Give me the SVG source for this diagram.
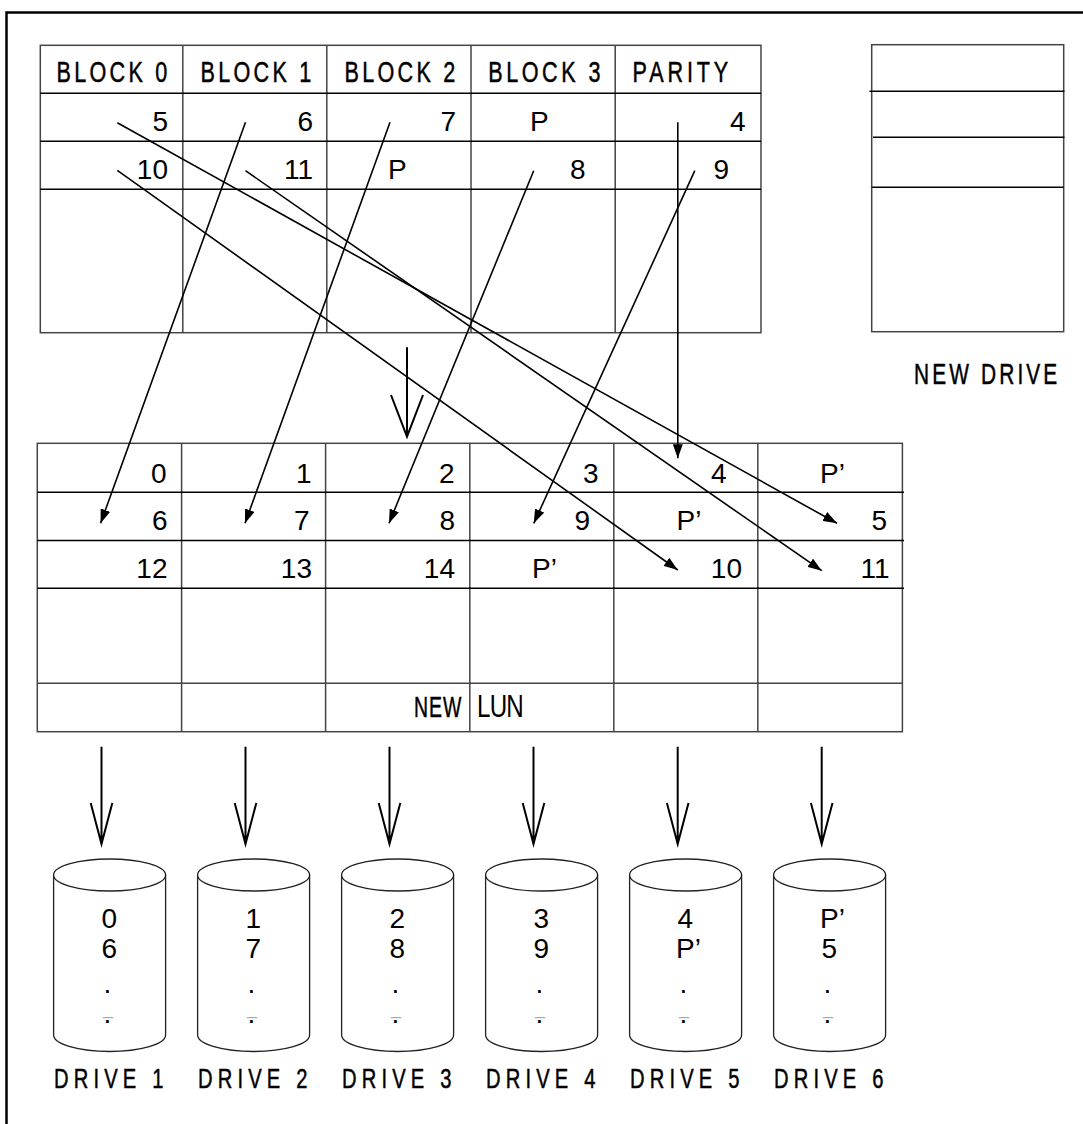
<svg xmlns="http://www.w3.org/2000/svg" width="1083" height="1124" viewBox="0 0 1083 1124">
<defs>
<style>
.frame{fill:none;stroke:#000;stroke-width:2.5}
.grid{fill:none;stroke:#444;stroke-width:1.5}
.row{stroke:#000;stroke-width:1.5}
.num{font-family:"Liberation Sans",Arial,sans-serif;font-size:28px;fill:#000}
.cad{font-family:"Liberation Sans",Arial,sans-serif;fill:#000;stroke:#000;stroke-width:0.5}
.h30{font-size:30px}
.h29{font-size:29px}
.h28{font-size:28px}
.conn{fill:none;stroke:#000;stroke-width:1.6}
.big{fill:none;stroke:#000;stroke-width:2}
.cyl{fill:#fff;stroke:#222;stroke-width:1.3}
.tick{stroke:#999;stroke-width:1}
</style>
<marker id="ah" viewBox="0 0 14 10" refX="14" refY="5" markerWidth="14" markerHeight="10" markerUnits="userSpaceOnUse" orient="auto">
<path d="M0,0 L14,5 L0,10 z" fill="#000"/>
</marker>
</defs>
<rect width="1083" height="1124" fill="#fff"/>
<rect class="frame" x="6.5" y="12.5" width="1100" height="1200"/>

<g id="old-lun">
<rect class="grid" x="40.3" y="45.3" width="720.7" height="287.4"/>
<path class="grid" d="M182.8,45.3V332.7M326.8,45.3V332.7M471,45.3V332.7M615.2,45.3V332.7"/>
<path class="row" d="M40.3,93.3H761M40.3,141.3H761M40.3,189.3H761"/>
<text class="cad h30" transform="translate(56.5,82.3) scale(0.72,1)" textLength="154" lengthAdjust="spacing">BLOCK 0</text>
<text class="cad h30" transform="translate(200.5,82.3) scale(0.72,1)" textLength="154" lengthAdjust="spacing">BLOCK 1</text>
<text class="cad h30" transform="translate(344.5,82.3) scale(0.72,1)" textLength="154" lengthAdjust="spacing">BLOCK 2</text>
<text class="cad h30" transform="translate(488.3,82.3) scale(0.72,1)" textLength="156" lengthAdjust="spacing">BLOCK 3</text>
<text class="cad h30" transform="translate(632.5,82.3) scale(0.72,1)" textLength="133" lengthAdjust="spacing">PARITY</text>
<text class="num" x="168" y="131.3" text-anchor="end">5</text>
<text class="num" x="313" y="131.3" text-anchor="end">6</text>
<text class="num" x="456" y="131.3" text-anchor="end">7</text>
<text class="num" x="530" y="131.3">P</text>
<text class="num" x="745.5" y="131.3" text-anchor="end">4</text>
<text class="num" x="168" y="179.3" text-anchor="end">10</text>
<text class="num" x="313" y="179.3" text-anchor="end">11</text>
<text class="num" x="388" y="179.3">P</text>
<text class="num" x="585.5" y="179.3" text-anchor="end">8</text>
<text class="num" x="729" y="179.3" text-anchor="end">9</text>
</g>

<g id="new-drive">
<rect class="grid" x="871.7" y="44.7" width="192" height="287"/>
<path class="row" d="M869.5,91.3H1064.5M873,137.3H1064.5M871.7,187.3H1063.7"/>
<text class="cad h29" transform="translate(914,384) scale(0.72,1)" textLength="199" lengthAdjust="spacing">NEW DRIVE</text>
</g>

<g id="new-lun">
<rect class="grid" x="37.3" y="443.3" width="865.1" height="288.4"/>
<path class="grid" d="M181.6,443.3V731.7M325.6,443.3V731.7M469.8,443.3V731.7M613.8,443.3V731.7M757.8,443.3V731.7M37.3,683.3H902.4"/>
<path class="row" d="M37.3,492.3H904M37.3,540.5H904M37.3,588.3H904"/>
<text class="num" x="166.5" y="482.7" text-anchor="end">0</text>
<text class="num" x="311.5" y="482.7" text-anchor="end">1</text>
<text class="num" x="454.5" y="482.7" text-anchor="end">2</text>
<text class="num" x="598.5" y="482.7" text-anchor="end">3</text>
<text class="num" x="726.5" y="482.7" text-anchor="end">4</text>
<text class="num" x="820" y="482.7">P’</text>
<text class="num" x="167.5" y="530" text-anchor="end">6</text>
<text class="num" x="309.5" y="530" text-anchor="end">7</text>
<text class="num" x="455" y="530" text-anchor="end">8</text>
<text class="num" x="590" y="530" text-anchor="end">9</text>
<text class="num" x="676.5" y="530">P’</text>
<text class="num" x="887" y="530" text-anchor="end">5</text>
<text class="num" x="167.5" y="578.3" text-anchor="end">12</text>
<text class="num" x="312" y="578.3" text-anchor="end">13</text>
<text class="num" x="455" y="578.3" text-anchor="end">14</text>
<text class="num" x="532" y="578.3">P’</text>
<text class="num" x="742" y="578.3" text-anchor="end">10</text>
<text class="num" x="889.5" y="578.3" text-anchor="end">11</text>
<text class="cad h30" transform="translate(414,716.7) scale(0.65,1)" textLength="73" lengthAdjust="spacing">NEW</text>
<text class="num" transform="translate(477,716.7) scale(0.78,1)" style="font-size:31px" textLength="60" lengthAdjust="spacing">LUN</text>
</g>

<g id="connectors">
<line class="conn" x1="245.5" y1="122.3" x2="100.6" y2="523.3" marker-end="url(#ah)"/>
<line class="conn" x1="390" y1="122.3" x2="245" y2="523.3" marker-end="url(#ah)"/>
<line class="conn" x1="533.7" y1="170.7" x2="389" y2="523.3" marker-end="url(#ah)"/>
<line class="conn" x1="694.8" y1="170.7" x2="533.8" y2="523.3" marker-end="url(#ah)"/>
<line class="conn" x1="677.8" y1="122.3" x2="677.8" y2="458.3" marker-end="url(#ah)"/>
<line class="conn" x1="117.3" y1="122.7" x2="837" y2="523.3" marker-end="url(#ah)"/>
<line class="conn" x1="117.3" y1="170.3" x2="677.8" y2="570" marker-end="url(#ah)"/>
<line class="conn" x1="245.5" y1="170.7" x2="821.7" y2="570.7" marker-end="url(#ah)"/>
<path class="big" d="M407,347.3V436.7M391,395L407,436.7L423,395"/>
<path class="big" d="M101.5,746.7V844M90.7,803L101.5,844L112.3,803"/>
<path class="big" d="M245.5,746.7V844M234.7,803L245.5,844L256.3,803"/>
<path class="big" d="M389.5,746.7V844M378.7,803L389.5,844L400.3,803"/>
<path class="big" d="M533.5,746.7V844M522.7,803L533.5,844L544.3,803"/>
<path class="big" d="M677.7,746.7V844M666.9,803L677.7,844L688.5,803"/>
<path class="big" d="M821.7,746.7V844M810.9,803L821.7,844L832.5,803"/>
</g>

<g id="drive-1">
<path class="cyl" d="M53.6,875V1035A56,16.5 0 0 0 165.6,1035V875"/>
<ellipse class="cyl" cx="109.6" cy="875" rx="56" ry="16"/>
<text class="num" x="101.5" y="928.3">0</text>
<text class="num" x="101.5" y="958.3">6</text>
<text class="num" x="103.5" y="993.2">.</text>
<line class="tick" x1="102.7" y1="1017.7" x2="113.3" y2="1017.7"/>
<text class="num" x="103.5" y="1023.2">.</text>
<text class="cad h28" transform="translate(54,1088.3) scale(0.72,1)" textLength="152" lengthAdjust="spacing">DRIVE 1</text>
</g>
<g id="drive-2">
<path class="cyl" d="M197.6,875V1035A56,16.5 0 0 0 309.6,1035V875"/>
<ellipse class="cyl" cx="253.6" cy="875" rx="56" ry="16"/>
<text class="num" x="245.5" y="928.3">1</text>
<text class="num" x="245.5" y="958.3">7</text>
<text class="num" x="247.5" y="993.2">.</text>
<line class="tick" x1="246.7" y1="1017.7" x2="257.3" y2="1017.7"/>
<text class="num" x="247.5" y="1023.2">.</text>
<text class="cad h28" transform="translate(198,1088.3) scale(0.72,1)" textLength="152" lengthAdjust="spacing">DRIVE 2</text>
</g>
<g id="drive-3">
<path class="cyl" d="M341.6,875V1035A56,16.5 0 0 0 453.6,1035V875"/>
<ellipse class="cyl" cx="397.6" cy="875" rx="56" ry="16"/>
<text class="num" x="389.5" y="928.3">2</text>
<text class="num" x="389.5" y="958.3">8</text>
<text class="num" x="391.5" y="993.2">.</text>
<line class="tick" x1="390.7" y1="1017.7" x2="401.3" y2="1017.7"/>
<text class="num" x="391.5" y="1023.2">.</text>
<text class="cad h28" transform="translate(342,1088.3) scale(0.72,1)" textLength="152" lengthAdjust="spacing">DRIVE 3</text>
</g>
<g id="drive-4">
<path class="cyl" d="M485.6,875V1035A56,16.5 0 0 0 597.6,1035V875"/>
<ellipse class="cyl" cx="541.6" cy="875" rx="56" ry="16"/>
<text class="num" x="533.5" y="928.3">3</text>
<text class="num" x="533.5" y="958.3">9</text>
<text class="num" x="535.5" y="993.2">.</text>
<line class="tick" x1="534.7" y1="1017.7" x2="545.3" y2="1017.7"/>
<text class="num" x="535.5" y="1023.2">.</text>
<text class="cad h28" transform="translate(486,1088.3) scale(0.72,1)" textLength="152" lengthAdjust="spacing">DRIVE 4</text>
</g>
<g id="drive-5">
<path class="cyl" d="M629.6,875V1035A56,16.5 0 0 0 741.6,1035V875"/>
<ellipse class="cyl" cx="685.6" cy="875" rx="56" ry="16"/>
<text class="num" x="677.5" y="928.3">4</text>
<text class="num" x="676" y="958.3">P’</text>
<text class="num" x="679.5" y="993.2">.</text>
<line class="tick" x1="678.7" y1="1017.7" x2="689.3" y2="1017.7"/>
<text class="num" x="679.5" y="1023.2">.</text>
<text class="cad h28" transform="translate(630,1088.3) scale(0.72,1)" textLength="152" lengthAdjust="spacing">DRIVE 5</text>
</g>
<g id="drive-6">
<path class="cyl" d="M773.6,875V1035A56,16.5 0 0 0 885.6,1035V875"/>
<ellipse class="cyl" cx="829.6" cy="875" rx="56" ry="16"/>
<text class="num" x="820" y="928.3">P’</text>
<text class="num" x="821.5" y="958.3">5</text>
<text class="num" x="823.5" y="993.2">.</text>
<line class="tick" x1="822.7" y1="1017.7" x2="833.3" y2="1017.7"/>
<text class="num" x="823.5" y="1023.2">.</text>
<text class="cad h28" transform="translate(774,1088.3) scale(0.72,1)" textLength="152" lengthAdjust="spacing">DRIVE 6</text>
</g>
</svg>
